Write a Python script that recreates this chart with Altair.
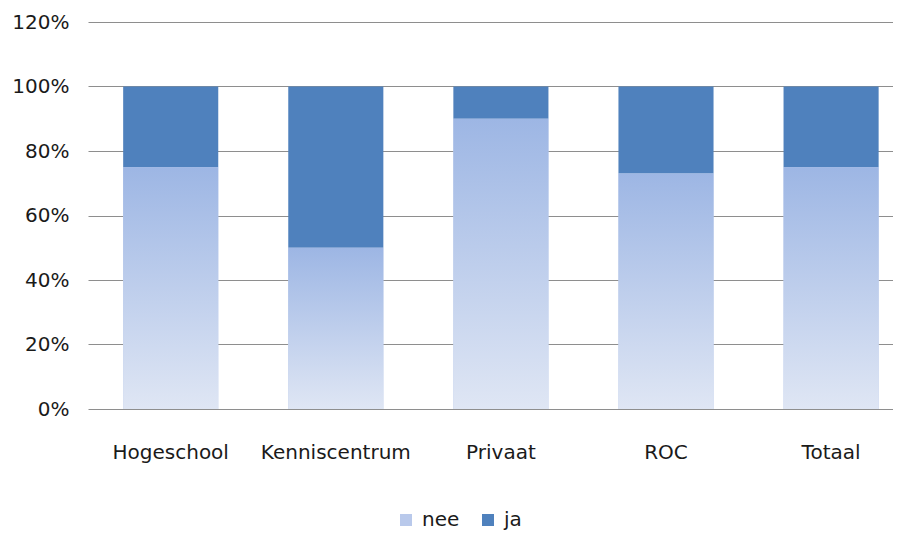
import altair as alt
import pandas as pd

categories = ["Hogeschool", "Kenniscentrum", "Privaat", "ROC", "Totaal"]
nee = [0.75, 0.50, 0.90, 0.73, 0.75]
ja = [0.25, 0.50, 0.10, 0.27, 0.25]
series = ["nee", "ja"]
y_ticks = [0, 0.2, 0.4, 0.6, 0.8, 1.0, 1.2]

rows = []
for c, n, j in zip(categories, nee, ja):
    rows.append({"cat": c, "series": "nee", "start": 0.0, "end": n})
    rows.append({"cat": c, "series": "ja", "start": n, "end": n + j})
df = pd.DataFrame(rows)

FONT = "DejaVu Sans"

x = alt.X(
    "cat:N",
    sort=categories,
    scale=alt.Scale(paddingInner=0.424, paddingOuter=0.15, align=0.71),
    axis=alt.Axis(title=None, labelAngle=0, domain=False, ticks=False,
                  labelPadding=33, labelFontSize=20, labelFont=FONT,
                  labelColor="#1a1a1a"),
)
y = alt.Y(
    "start:Q",
    scale=alt.Scale(domain=[0, 1.2], nice=False),
    axis=alt.Axis(title=None, values=y_ticks, format=".0%", domain=False,
                  ticks=False, labelPadding=19, labelFontSize=20,
                  labelFont=FONT, labelColor="#1a1a1a", grid=True,
                  gridColor="#8e8e8e", gridWidth=1),
)

base = alt.Chart(df).mark_bar().encode(
    x=x,
    y=y,
    y2="end:Q",
    color=alt.Color(
        "series:N",
        scale=alt.Scale(domain=series, range=["#b9c9eb", "#4f81bd"]),
        legend=alt.Legend(
            title=None, orient="none", direction="horizontal",
            legendX=308, legendY=488, symbolType="square", symbolSize=144,
            symbolStrokeWidth=0, labelFontSize=20, labelFont=FONT,
            labelColor="#1a1a1a", columnPadding=18, labelOffset=6,
            padding=0, labelLimit=200,
        ),
    ),
)

grad = alt.Chart(df).transform_filter(alt.datum.series == "nee").mark_bar(
    fill={
        "gradient": "linear",
        "x1": 0, "y1": 1, "x2": 0, "y2": 0,
        "stops": [
            {"offset": 0, "color": "#dfe6f4"},
            {"offset": 1, "color": "#9db6e4"},
        ],
    }
).encode(x=x, y=y, y2="end:Q")

chart = alt.layer(base, grad).properties(
    width=805,
    height=387,
    autosize=alt.AutoSizeParams(type="none"),
    padding={"left": 80, "top": 14, "right": 0, "bottom": 126},
).configure_view(stroke=None)

chart.save("out.html", embed_options={"renderer": "svg", "actions": False})
